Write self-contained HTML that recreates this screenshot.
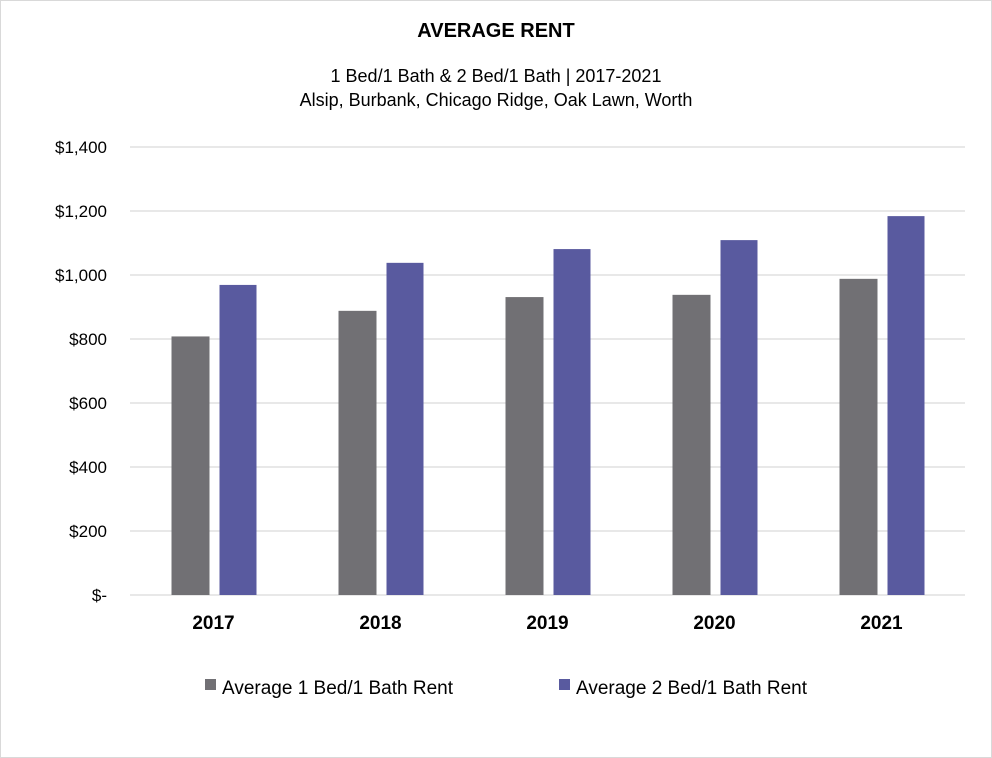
<!DOCTYPE html>
<html><head><meta charset="utf-8"><style>
body{margin:0;background:#fff;}
svg{display:block;font-family:"Liberation Sans",sans-serif;}
</style></head><body>
<svg id="chart" width="992" height="758">
<rect x="0.5" y="0.5" width="991" height="757" fill="#fff" stroke="#d9d9d9"/>
<text x="496" y="37" text-anchor="middle" font-size="20" font-weight="bold" fill="#000">AVERAGE RENT</text>
<text x="496" y="82" text-anchor="middle" font-size="18" fill="#000">1 Bed/1 Bath &amp; 2 Bed/1 Bath | 2017-2021</text>
<text x="496" y="106" text-anchor="middle" font-size="18" fill="#000">Alsip, Burbank, Chicago Ridge, Oak Lawn, Worth</text>
<g id="grid"></g><g id="bars"></g><g id="xlabels"></g>
<rect x="205" y="679" width="11" height="11" fill="#717074"/>
<text x="222" y="694" font-size="19" fill="#000">Average 1 Bed/1 Bath Rent</text>
<rect x="559" y="679" width="11" height="11" fill="#595a9f"/>
<text x="576" y="694" font-size="19" fill="#000">Average 2 Bed/1 Bath Rent</text>
</svg>
<script>
const categories=["2017","2018","2019","2020","2021"];
const oneBed=[808,888,931,938,988];
const twoBed=[969,1038,1081,1109,1184];
const yTicks=[0,200,400,600,800,1000,1200,1400];
const yTickLabels=["$-","$200","$400","$600","$800","$1,000","$1,200","$1,400"];
const NS="http://www.w3.org/2000/svg";
const x0=130,x1=965,y0=595,yTop=147,yMax=1400;
const y=v=>y0-(v/yMax)*(y0-yTop);
const band=(x1-x0)/categories.length;
function mk(t,a,p){const e=document.createElementNS(NS,t);for(const k in a)e.setAttribute(k,a[k]);p.appendChild(e);return e;}
const g=document.getElementById('grid');
yTicks.forEach((t,i)=>{
 const l=mk('line',{x1:x0,x2:x1,y1:y(t),y2:y(t),stroke:'#d9d9d9','stroke-width':1.3},g);
 
 
 const tx=mk('text',{x:107,y:y(t)+6,'text-anchor':'end','font-size':17,fill:'#000'},g);
 tx.textContent=yTickLabels[i];
 
 
});
const b=document.getElementById('bars'),xl=document.getElementById('xlabels');
categories.forEach((c,i)=>{
 const cx=x0+band*(i+0.5);
 const r1=mk('rect',{x:cx-42,y:y(oneBed[i]),width:38,height:y0-y(oneBed[i]),fill:'#717074'},b);
 
 
 const r2=mk('rect',{x:cx+6,y:y(twoBed[i]),width:37,height:y0-y(twoBed[i]),fill:'#595a9f'},b);
 
 
 const t=mk('text',{x:cx,y:629,'text-anchor':'middle','font-size':19,'font-weight':'bold',fill:'#000'},xl);
 t.textContent=c;
 
 
});
</script>
</body></html>
